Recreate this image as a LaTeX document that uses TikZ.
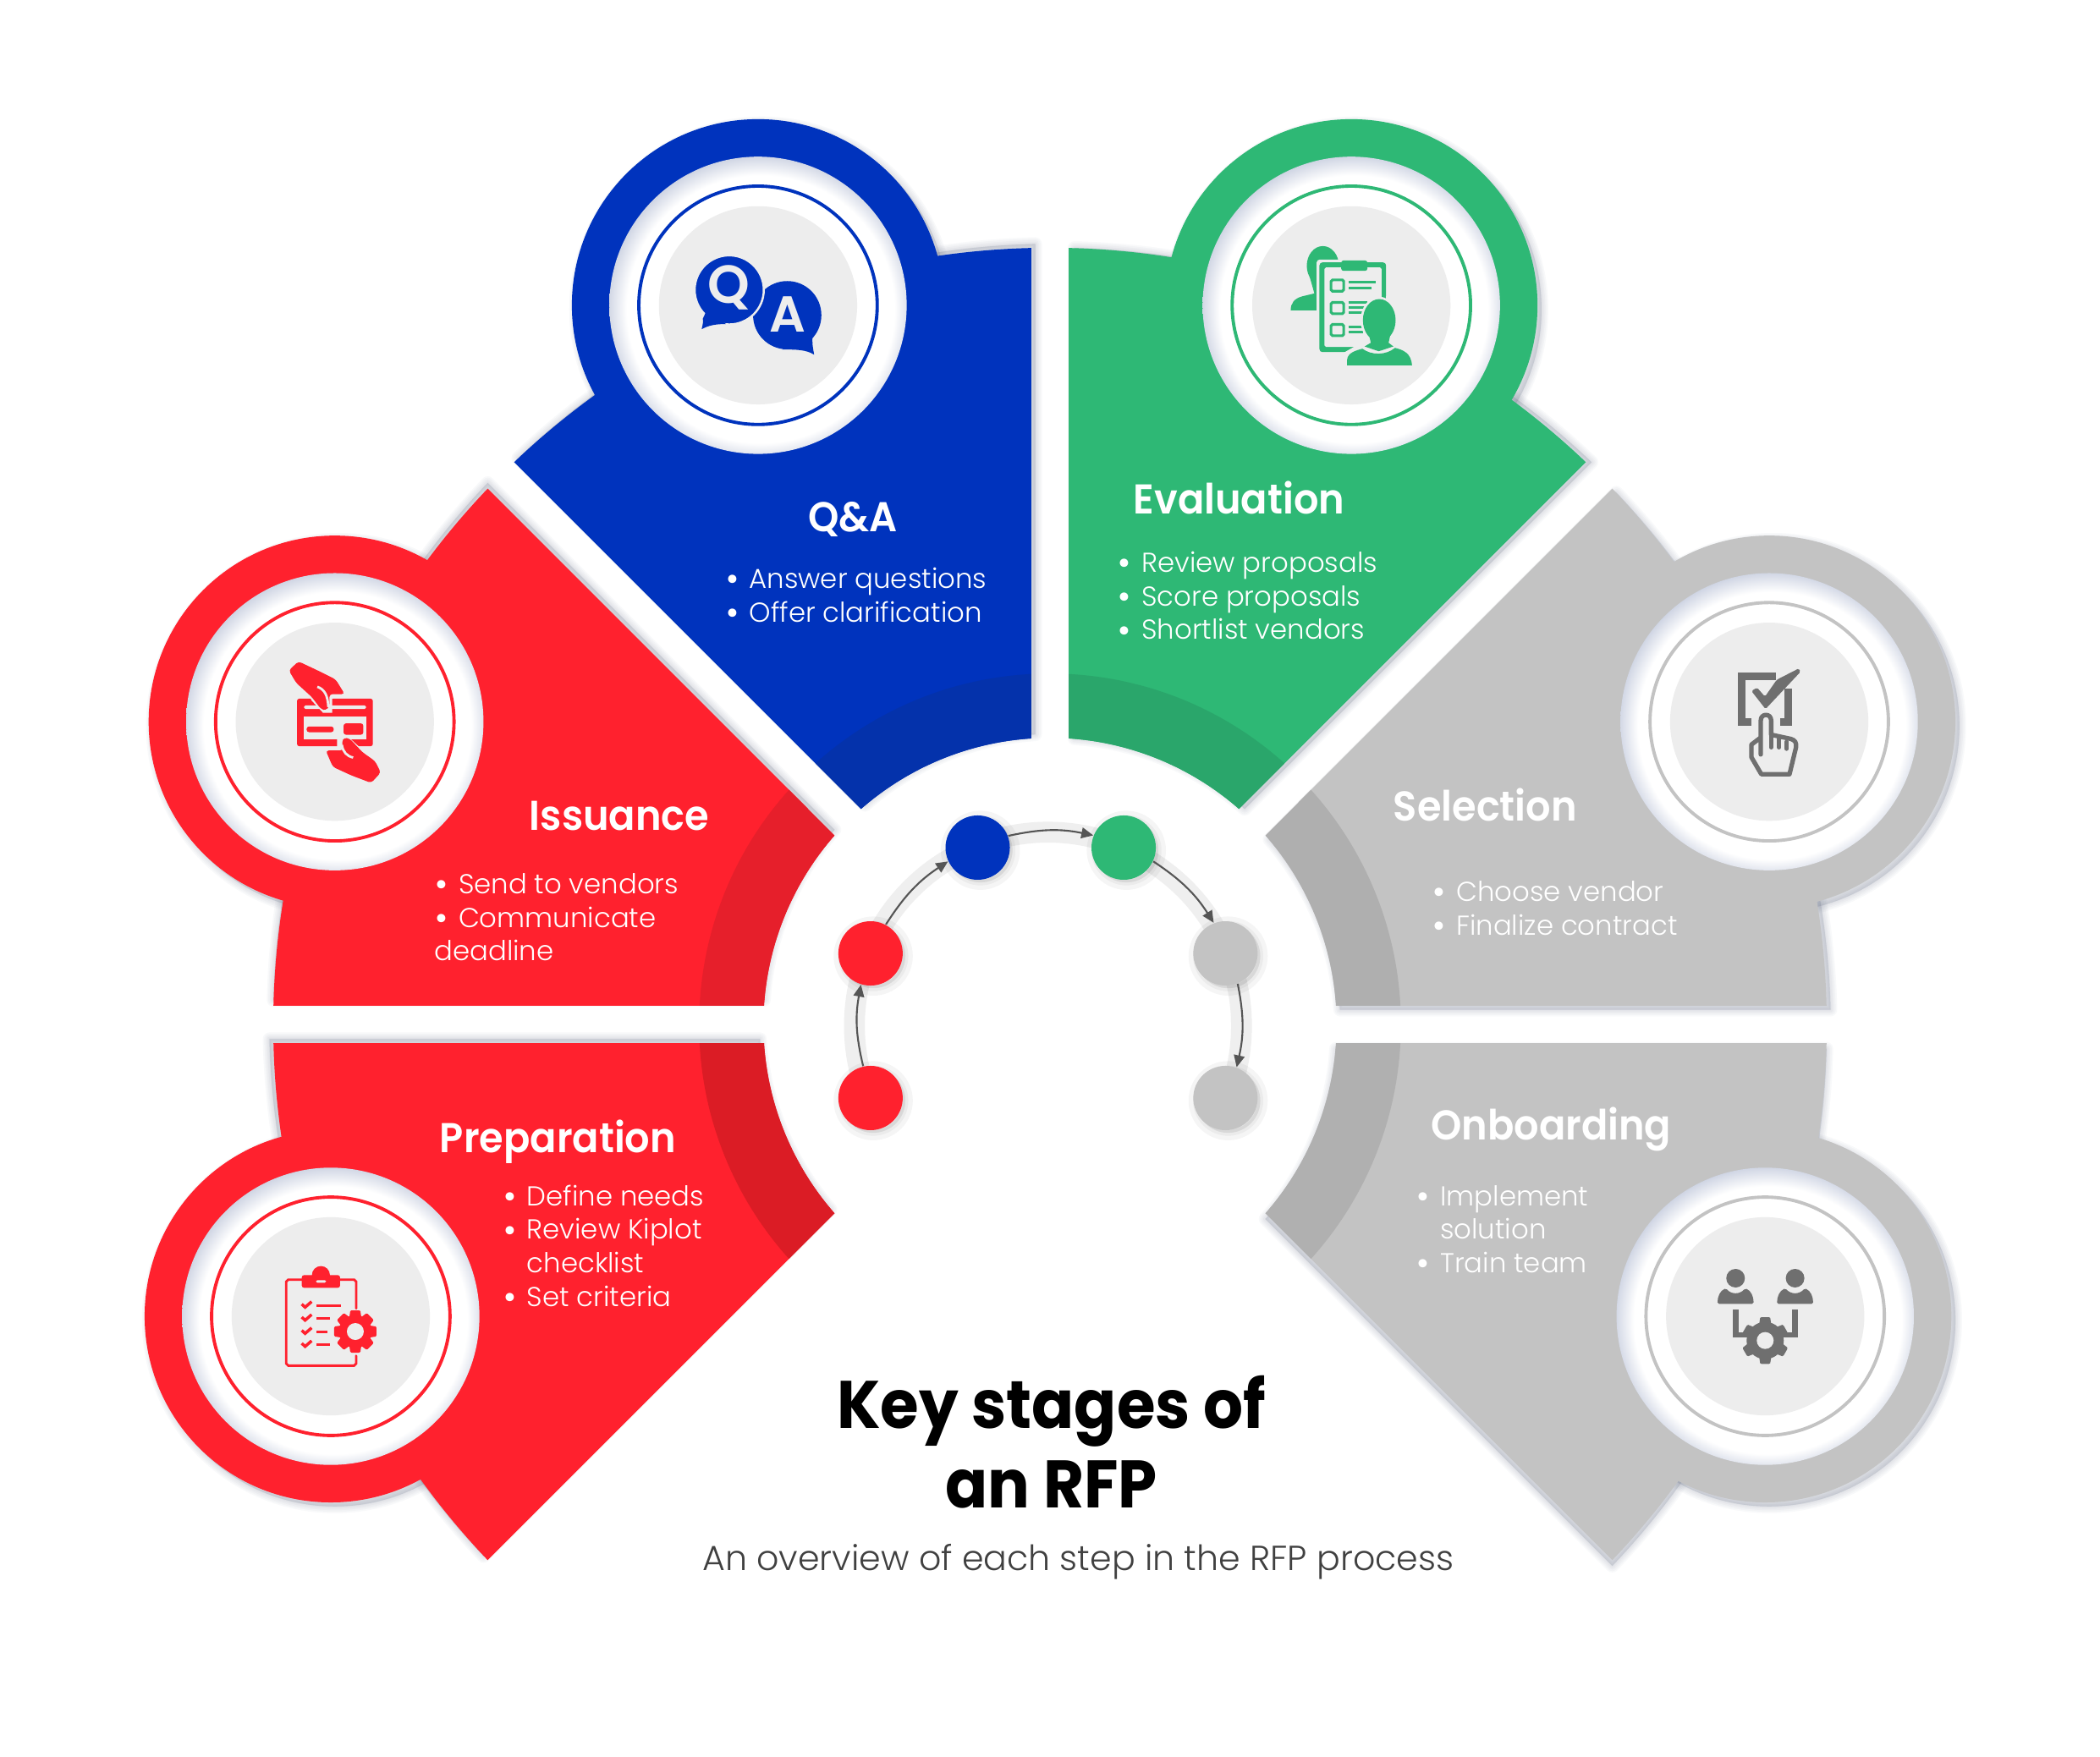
\documentclass[tikz,border=0pt]{standalone}
\usepackage{fontspec}
\setmainfont{Poppins Light}[BoldFont=Poppins SemiBold]
\newfontfamily\titlefont{Poppins SemiBold}
\newfontfamily\headfont[FakeStretch=0.94]{Poppins SemiBold}
\newfontfamily\keyfont[FakeStretch=0.93]{Poppins Bold}
\usetikzlibrary{arrows.meta}

\definecolor{stagered}{HTML}{FF212E}
\definecolor{stageblue}{HTML}{0033BD}
\definecolor{stagegreen}{HTML}{2EB875}
\definecolor{stagegrey}{HTML}{C3C3C3}
\definecolor{icongrey}{HTML}{6F6F6F}
\definecolor{iconbg}{HTML}{EDEDED}
\definecolor{rimtint}{HTML}{C4CBDD}
\definecolor{softtint}{HTML}{5F6880}
\definecolor{arrowgrey}{HTML}{555555}
\definecolor{subgrey}{HTML}{404040}

\pgfdeclareradialshading{rimshade}{\pgfpoint{0.8bp}{-1.2bp}}{color(0bp)=(white); color(22.5bp)=(white); color(26.5bp)=(rimtint); color(50bp)=(rimtint)}

\tikzset{
  stagedot/.style={circle,inner sep=0pt,minimum size=0.76cm,fill=#1},
  flowarrow/.style={arrowgrey,line width=0.6pt,-{Triangle[length=4pt,width=3.6pt]}},
  stagehead/.style={anchor=base west,inner sep=0pt,text=white,font=\headfont\fontsize{14}{18}\selectfont},
  stagebody/.style={anchor=north west,inner sep=0pt,align=left,text=white,font=\fontsize{9.2}{11.3}\selectfont},
  iconspace/.style n args={4}{shift={(#1,#2)},scale=0.2106,yscale=-1,shift={(-#3,-#4)}},
}

% one sector of the fan, drawn for the 0-45 degree position
\newcommand{\sectorshape}{(1.38:580) arc[start angle=1.38,end angle=43.62,radius=580] -- (41.25:214) arc[start angle=41.25,end angle=3.75,radius=214] -- cycle}
\newcommand{\softshadow}[1]{\foreach \w in {0.5,1.5,...,4.5}{\fill[softtint,opacity=.04,draw=softtint,line width=\w pt,line join=round,shift={(3,-3)}] #1;}}
\newcommand{\stagebullet}{\rule{0pt}{7pt}\makebox[8.1pt][l]{{\titlefont\fontsize{10}{10}\selectfont\raisebox{-0.3pt}{•}}}}
\newcommand{\gearmark}[6]{%
  \fill (#1,#2) circle[radius=#3];
  \foreach \a in {#5}{\fill[shift={(#1,#2)},rotate=\a] (#3-6,-21) -- (#4-3,-18) -- (#4,-13) -- (#4,13) -- (#4-3,18) -- (#3-6,21) -- cycle;}
  \fill[iconbg] (#1,#2) circle[radius=#6];
}

\begin{document}
\begin{tikzpicture}[x=0.01583cm,y=0.01583cm]
  \path[use as bounding box,fill=white] (-784,-547) rectangle (784,765);

  % shadows first
  \foreach \ang/\ringx/\ringy in {180/-537/-218,135/-534/226,90/-218/537,45/225/537,0/537/226,-45/534/-218}{
    \begin{scope}[rotate=\ang]
      \softshadow{\sectorshape}
    \end{scope}
    \softshadow{(\ringx,\ringy) circle[radius=139]}
  }

  % sectors with their rings
  \foreach \ang/\ringx/\ringy/\col/\bandcol in {180/-537/-218/stagered/DB1C25,135/-534/226/stagered/E61F2B,90/-218/537/stageblue/0432AB,45/225/537/stagegreen/2AA66B,0/537/226/stagegrey/AFAFAF,-45/534/-218/stagegrey/B0B0B0}{
    \definecolor{bandcol}{HTML}{\bandcol}
    \begin{scope}[rotate=\ang]
      \fill[\col] \sectorshape;
      \begin{scope}
        \clip \sectorshape;
        \fill[bandcol] (0,0) circle[radius=262];
      \end{scope}
    \end{scope}
    \fill[\col] (\ringx,\ringy) circle[radius=139];
    \shade[shading=rimshade] (\ringx,\ringy) circle[radius=111];
    \draw[\col,line width=1.1pt] (\ringx,\ringy) circle[radius=89];
    \fill[iconbg] (\ringx,\ringy) circle[radius=74];
  }

  % preparation icon
  \begin{scope}[iconspace={-537}{-218}{363}{378},color=stagered]
    \draw[line width=0.8pt,line cap=round] (453,350) -- (453,255) -- (446,248) -- (212,248) -- (205,255) -- (205,546) -- (212,553) -- (446,553) -- (453,546) -- (453,518);
    \fill[rounded corners=0.8pt] (260,232) rectangle (396,277);
    \fill (328,232) circle[radius=32];
    \fill[iconbg,rounded corners=0.5pt] (310,250) rectangle (347,259);
    \foreach \yy in {338,384,431,477}{
      \draw[line width=1pt] (260,\yy-3) -- (272,\yy+8) -- (295,\yy-12);
    }
    \draw[line width=1pt] (312,340) -- (398,340) (312,386) -- (360,386) (312,433) -- (352,433) (312,479) -- (360,479);
    \gearmark{450}{432}{58}{75}{0,45,...,359}{30}
  \end{scope}

  % issuance icon
  \begin{scope}[iconspace={-534}{226}{287}{310},color=stagered]
    \fill[rounded corners=0.8pt] (153,228) rectangle (422,397);
    \fill[iconbg,rounded corners=0.5pt] (178,252) rectangle (398,265);
    \fill[iconbg] (178,290) rectangle (398,373);
    \fill[rounded corners=0.8pt] (187,327) rectangle (283,347);
    \fill[rounded corners=0.8pt] (318,316) rectangle (388,356);
    \fill[iconbg] (295,373) -- (345,373) -- (380,405) -- (295,405) -- cycle;
    \fill[iconbg] (190,205) -- (320,205) -- (278,228) -- (278,278) -- (245,278) -- (205,235) -- cycle;
    \fill[rounded corners=1pt] (158,96) -- (124,128) -- (150,172) -- (205,222) -- (238,265) -- (255,270) -- (268,255) -- (268,212) -- (322,212) -- (290,160) -- (230,130) -- cycle;
    \draw[iconbg,line width=0.8pt] (225,186) .. controls (250,195) and (262,215) .. (264,258);
    \fill[rounded corners=1pt] (416,527) -- (450,490) -- (430,450) -- (385,418) -- (340,370) -- (320,366) -- (312,382) -- (316,412) -- (255,412) -- (280,470) -- (345,500) -- cycle;
    \draw[iconbg,line width=0.8pt] (312,392) .. controls (316,418) and (330,432) .. (352,437);
  \end{scope}

  % q&a icon
  \begin{scope}[shift={(-218,537)},color=stageblue]
    \fill (21.8,-7.4) circle[radius=25.5];
    \fill (43,-14) -- (40.7,-22.6) .. controls (40.5,-29) .. (41.9,-36.9) .. controls (36,-33) and (28,-33) .. (18,-33) -- cycle;
    \fill[draw=iconbg,line width=0.7pt] (-21.5,11.5) circle[radius=25.8];
    \fill (-38,-3) -- (-41.2,-10) .. controls (-41,-13) .. (-42.1,-17.9) .. controls (-37,-15) and (-32,-14) .. (-24,-14) -- cycle;
    \node (qletter) [text=iconbg,inner sep=0pt,font=\titlefont\fontsize{18}{20}\selectfont] at (-21.5,13) {Q};
    \node (aletter) [text=iconbg,inner sep=0pt,font=\titlefont\fontsize{17}{20}\selectfont] at (21.8,-7) {A};
  \end{scope}

  % evaluation icon
  \begin{scope}[iconspace={225}{537}{593}{692},color=stagegreen]
    \fill (492,552) ellipse[x radius=57,y radius=70];
    \fill (445,590) -- (462,650) -- (420,660) .. controls (390,668) and (378,685) .. (378,710) -- (480,710) -- (480,590) -- cycle;
    \fill[iconbg,rounded corners=1pt] (470,530) rectangle (726,870);
    \fill[rounded corners=1pt] (480,540) rectangle (716,858);
    \fill[iconbg,rounded corners=0.5pt] (498,558) rectangle (700,840);
    \fill[rounded corners=0.8pt] (557,533) rectangle (650,570);
    \foreach \yy in {622,702,780}{
      \draw[line width=0.9pt,rounded corners=0.5pt] (521,\yy-20) rectangle (566,\yy+20);
    }
    \draw[line width=0.9pt] (583,610) -- (680,610) (583,630) -- (665,630) (583,683) -- (650,683) (583,700) -- (640,700) (583,718) -- (635,718) (583,768) -- (635,768) (583,787) -- (635,787);
    % front person on a halo
    \fill[iconbg,draw=iconbg,line width=1.2pt] (692,745) ellipse[x radius=60,y radius=77];
    \fill[iconbg,draw=iconbg,line width=2pt] (570,912) -- (570,870) -- (640,830) -- (740,830) -- (815,870) -- (815,912) -- cycle;
    \fill[iconbg] (716,660) rectangle (750,860);
    \fill (692,745) ellipse[x radius=58,y radius=75];
    \fill (652,780) -- (662,825) -- (640,838) -- (690,855) -- (742,838) -- (725,825) -- (735,780) -- cycle;
    \fill (578,905) -- (578,885) .. controls (580,860) and (610,852) .. (632,846) .. controls (665,870) and (715,870) .. (748,843) .. controls (775,850) and (805,860) .. (808,905) -- cycle;
  \end{scope}

  % selection icon
  \begin{scope}[iconspace={537}{226}{423}{399},color=icongrey]
    \draw[line width=2.4pt] (448,238) -- (326,238) -- (326,400) -- (360,400) (462,400) -- (490,400) -- (490,280);
    \fill[rounded corners=0.5pt] (360,290) -- (380,278) -- (408,310) -- (450,250) -- (528,210) -- (534,222) -- (470,290) -- (410,354) -- cycle;
    \draw[line width=1.5pt,line join=round,line cap=round] (393,515) -- (393,395) .. controls (393,368) and (430,368) .. (430,395) -- (430,445) -- (500,460) .. controls (515,465) and (520,472) .. (518,490) -- (495,585) -- (395,585) -- (360,525) -- (360,480) -- (393,455);
    \draw[line width=1.4pt,line cap=round] (430,430) -- (430,490) (458,458) -- (458,490) (485,470) -- (485,495);
  \end{scope}

  % onboarding icon
  \begin{scope}[iconspace={534}{-218}{409}{349},color=icongrey]
    \foreach \px in {304,515}{
      \fill (\px,214) circle[radius=33];
      \fill[rounded corners=0.5pt] (\px-64,305) .. controls (\px-64,280) and (\px-55,258) .. (\px-34,250) .. controls (\px-15,272) and (\px+15,272) .. (\px+34,250) .. controls (\px+55,258) and (\px+64,280) .. (\px+64,305) -- cycle;
    }
    \draw[line width=1.9pt] (305,325) -- (305,415) -- (345,415) (515,325) -- (515,415) -- (475,415);
    \gearmark{409}{435}{66}{83}{30,90,...,359}{30}
  \end{scope}

  % the small track with the stage dots
  \draw[iconbg!90!white,line width=7pt] (-1.5,-1) ++(202:144.5) arc[start angle=202,end angle=-22,radius=144.5];
  \foreach \dx/\dy in {-134/-55,-134/53,-54/132,55/132,131/53,131/-55}{
    \fill[black,opacity=.04,draw=black,line width=2pt] (\dx+2,\dy-2) circle[radius=24];
    \fill[black,opacity=.04,draw=black,line width=5pt] (\dx+2,\dy-2) circle[radius=24];
  }
  \node (prepdot) [stagedot=stagered] at (-134,-55) {};
  \node (issuedot) [stagedot=stagered] at (-134,53) {};
  \node (qadot) [stagedot=stageblue] at (-54,132) {};
  \node (evaldot) [stagedot=stagegreen] at (55,132) {};
  \node (selectdot) [stagedot=stagegrey] at (131,53) {};
  \node (onboarddot) [stagedot=stagegrey] at (131,-55) {};
  \draw[flowarrow] (prepdot.103) to[bend left=12] (issuedot.253);
  \draw[flowarrow] (issuedot.62) to[bend left=12] (qadot.205);
  \draw[flowarrow] (qadot.21) to[bend left=12] (evaldot.158);
  \draw[flowarrow] (evaldot.-25) to[bend left=12] (selectdot.111);
  \draw[flowarrow] (selectdot.-68) to[bend left=12] (onboarddot.70);

  % texts
  \node (prephead) [stagehead] at (-456,-96) {Preparation};
  \node (issuehead) [stagehead] at (-389,145) {Issuance};
  \node (qahead) [stagehead] at (-181,368) {Q\&A};
  \node (evalhead) [stagehead] at (62,381) {Evaluation};
  \node (selecthead) [stagehead] at (256,152) {Selection};
  \node (onboardhead) [stagehead] at (284,-86) {Onboarding};
  \node (prepbody) [stagebody] at (-409,-119.4) {\stagebullet Define needs\\\stagebullet Review Kiplot\\\hspace*{8.1pt}checklist\\\stagebullet Set criteria};
  \node (issuebody) [stagebody] at (-460,113.6) {\stagebullet Send to vendors\\\stagebullet Communicate\\deadline};
  \node (qabody) [stagebody] at (-243,341.6) {\stagebullet Answer questions\\\stagebullet Offer clarification};
  \node (evalbody) [stagebody] at (50,353.6) {\stagebullet Review proposals\\\stagebullet Score proposals\\\stagebullet Shortlist vendors};
  \node (selectbody) [stagebody] at (285,107.6) {\stagebullet Choose vendor\\\stagebullet Finalize contract};
  \node (onboardbody) [stagebody] at (273,-119.4) {\stagebullet Implement\\\hspace*{8.1pt}solution\\\stagebullet Train team};
  \node (keytitle) [align=center,inner sep=0pt,text=black,font=\keyfont\fontsize{22.6}{26.6}\selectfont] at (1,-312) {Key stages of\\an RFP};
  \node (keysub) [anchor=base,inner sep=0pt,text=subgrey,font=\fontsize{11.7}{14}\selectfont] at (21,-408) {An overview of each step in the RFP process};
\end{tikzpicture}
\end{document}
